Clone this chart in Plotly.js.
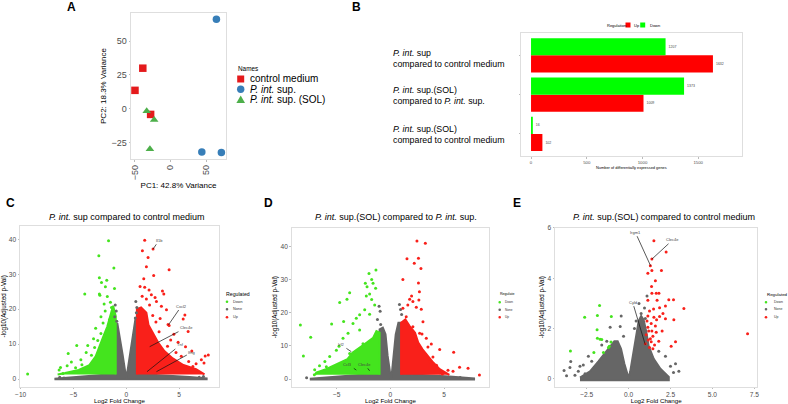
<!DOCTYPE html>
<html><head><meta charset="utf-8">
<script src="https://cdn.plot.ly/plotly-3.0.1.min.js"></script>
<style>html,body{margin:0;padding:0;background:#fff}#chart{width:788px;height:404px}</style>
</head><body><div id="chart"></div>
<script>
// ---------- Panel A: PCA ----------
const pcaGroups = ['control medium', 'P. int. sup.', 'P. int. sup. (SOL)'];
const pcaCtrlX = [-39, -50, -28];
const pcaCtrlY = [30, 13.7, -4];
const pcaSupX = [64.5, 44, 71.5];
const pcaSupY = [66, -31.6, -32];
const pcaSolX = [-33.5, -23, -29];
const pcaSolY = [-1.5, -8, -29.5];

// ---------- Panel B: DEG counts ----------
const degComparisons = ['P. int. sup compared to control medium',
  'P. int. sup.(SOL) compared to P. int. sup.',
  'P. int. sup.(SOL) compared to control medium'];
const degLabels = ['<i>P. int.</i> sup<br>compared to control medium',
  '<i>P. int.</i> sup.(SOL)<br>compared to <i>P. int.</i> sup.',
  '<i>P. int.</i> sup.(SOL)<br>compared to control medium'];
const degUp = [1632, 1009, 102];
const degDown = [1207, 1373, 16];
const degTicks = [0, 500, 1000, 1500];

// ---------- Panel C volcano ----------
const cGrayPolyX = [-6.8, -5, -3, -1.8, -1, -1, -0.85, -0.6, -0.35, -0.15, 0, 0.15, 0.35, 0.6, 0.85, 1, 1, 2, 4, 6, 7.6, 7.6, -6.8];
const cGrayPolyY = [0.1, 0.6, 1.0, 1.3, 1.3, 15, 16, 12, 7, 3, 0.3, 3, 7, 12, 17, 17, 1.3, 1.3, 1.0, 0.6, 0.2, -0.1, -0.1];
const cGreenPolyX = [-1, -1, -1.25, -1.5, -1.8, -2.2, -2.6, -2.9, -3.5, -4.5, -5.8, -6.5];
const cGreenPolyY = [1.3, 18, 21, 18, 15, 12, 9, 6.5, 4, 2.6, 1.7, 1.3];
const cRedPolyX = [1, 1, 1.4, 1.9, 2.1, 2.6, 3.0, 3.6, 4.4, 5.4, 6.6, 7.4];
const cRedPolyY = [1.3, 20, 20.5, 19, 15.5, 12.5, 10.5, 8, 5.9, 4, 2.8, 1.3];
const cGrayX = [-1.05, -0.95, -1.1, -0.9, 0.9, 1.0, 0.95, 0.85, 6.9, 7.3, -6.3, -5.9, 7.1];
const cGrayY = [21.2, 19.5, 17.8, 16.5, 22.2, 20.5, 19, 17.5, 0.5, 0.7, 0.5, 0.3, 0.2];
const cDownX = [-1.68, -2.6, -1.18, -2.55, -1.85, -2.35, -1.12, -1.98, -3.93, -2.55, -2.5, -1.8, -1.5, -2.1, -1.4, -2.0, -2.4, -1.6, -4.69, -3.65, -5.5, -3.0, -3.8, -5.2, -6.23, -6.36, -9.34, -4.3, -3.3, -2.7, -2.4, -3.1, -5.6, -4.8, -5.0, -4.2, -6.0, -3.6, -2.9, -2.2];
const cDownY = [39.6, 35.3, 31.8, 29, 28.3, 27.6, 25.9, 26.4, 24.3, 24.3, 24, 23.6, 22, 21.5, 20.5, 19.5, 17.8, 17, 9.6, 9.6, 7.3, 9, 7.6, 4.9, 3.3, 2.6, 1.4, 5.5, 6.8, 11, 13, 11.5, 3.8, 3.2, 2.0, 4.1, 1.6, 2.5, 14.5, 16];
const cUpX = [1.74, 2.53, 1.52, 2.06, 4.05, 1.9, 1.65, 2.59, 1.74, 2.15, 2.37, 3.42, 3.55, 2.72, 1.9, 2.85, 3.32, 3.8, 5.54, 5.38, 3.95, 4.05, 5.85, 3.2, 2.5, 4.5, 4.9, 5.6, 6.2, 7.76, 7.46, 6.6, 7.1, 7.35, 5.9, 6.3, 5.2, 4.7, 3.9, 4.2, 3.1, 2.8, 2.2, 1.5, 1.3];
const cUpY = [39.7, 37.2, 36.7, 34.8, 31.3, 32.1, 28.7, 29.6, 26.3, 25.5, 24.1, 25.2, 24.3, 23.3, 22.9, 22.2, 20.8, 19.8, 18.3, 17.2, 15.6, 15.3, 13.6, 17.3, 18.2, 12.8, 10.5, 9.2, 8, 6.9, 6.6, 4.4, 5.5, 4.6, 5, 3.6, 6.5, 7.6, 9.4, 11.2, 13.5, 16.3, 21.2, 23.7, 26.5];
const cGenes = ['Il1b', 'Cxcl2', 'Clec4e', 'Tnf', 'Ifng'];
const cGeneX = [2.53, 3.99, 2.21, 1.96, 2.85];
const cGeneY = [37.2, 15.5, 9.25, 2.1, 2.1];
const cGeneLabelX = [3.1, 5.22, 5.66, 5.11, 6.2];
const cGeneLabelY = [39.7, 20.9, 14.7, 9.74, 7.65];

// ---------- Panel D volcano ----------
const dGrayPolyX = [-7.5, -5, -3, -1, -1, -0.7, -0.45, -0.25, -0.08, 0.05, 0.15, 0.3, 0.5, 0.75, 1, 1, 3, 5.5, 7.8, 7.8, -7.5];
const dGrayPolyY = [0.1, 0.8, 1.2, 1.3, 15, 15.5, 13.5, 7, 2, 0.2, 2, 7, 13.5, 17, 17, 1.3, 1.2, 0.8, 0.2, -0.1, -0.1];
const dGreenPolyX = [-1, -1, -1.3, -1.6, -2.2, -2.8, -3.5, -4, -5, -6, -6.9, -7];
const dGreenPolyY = [1.3, 14, 14.5, 12.5, 11, 9.5, 8, 6, 4.5, 3, 2, 1.3];
const dRedPolyX = [1, 1, 1.4, 1.8, 2.3, 2.6, 3, 3.5, 4, 4.6, 5.2, 5.5];
const dRedPolyY = [1.3, 17, 18, 16, 14, 11, 9, 7, 5, 3, 2, 1.3];
const dGrayX = [-1.2, -0.95, -0.9, 0.85, 0.95, 1.05, -7.8, 6.5, -1.05];
const dGrayY = [18, 20.5, 16.5, 22.5, 21, 19.5, 0.4, 0.5, 22];
const dDownX = [-8.38, -7.42, -8.1, -1.34, -1.99, -1.74, -1.61, -2.33, -2.17, -1.37, -2.24, -1.93, -1.74, -3.79, -4.72, -4.04, -5.47, -4.35, -4.78, -3.17, -2.86, -2.39, -1.46, -1.93, -3.48, -2.86, -3.94, -4.41, -5.03, -5.65, -6.1, -6.6, -7.05, -7.08, -5.96, -3.79, -2.55];
const dDownY = [16.3, 12.6, 7, 32.9, 31.9, 30.1, 28.9, 28.9, 27.9, 27.4, 25.1, 25.7, 24, 26.1, 23.1, 24.1, 16.6, 17.4, 9.9, 18.4, 19.4, 20.9, 22.4, 19.6, 16.8, 14.8, 13.8, 12.3, 8.7, 6.8, 5.3, 4, 2.8, 1.3, 3.7, 7.7, 10.7];
const dUpX = [2.48, 3.26, 1.55, 2.62, 2.23, 2.85, 1.17, 2.62, 2.71, 1.98, 1.8, 2.1, 2.66, 2.42, 2.88, 1.17, 1.63, 1.48, 3.04, 2.1, 2.73, 2.95, 3.35, 3.82, 4.6, 5.9, 3.5, 2.42, 3.97, 5.37, 5.84, 6.45, 7.24, 8.3, 4.6, 4.85, 4.3, 3.66];
const dUpY = [41.7, 41, 36.3, 36.5, 35, 33.4, 30.1, 29, 26.4, 25.1, 24.1, 23.4, 23.9, 21.7, 21.1, 21.4, 22.4, 18.8, 17.3, 15.8, 13.8, 13.6, 12.3, 10.6, 8.9, 8.1, 9.7, 9.9, 6.7, 2.7, 2.4, 3.6, 3.3, 1.2, 1.9, 1.5, 4.2, 5.2];
const dGenes = ['Irf2', 'Ccl3', 'Clec4e'];
const dGeneX = [-3.63, -3.17, -1.93];
const dGeneY = [8.25, 2.72, 2.5];
const dGeneLabelX = [-4.56, -3.95, -2.39];
const dGeneLabelY = [10.3, 4.44, 4.44];

// ---------- Panel E volcano ----------
const eGrayPolyX = [-2.9, -2.3, -1.8, -1.4, -1.1, -0.85, -0.65, -0.45, -0.25, -0.1, 0.0, 0.1, 0.25, 0.45, 0.6, 0.75, 0.9, 1.05, 1.2, 1.5, 1.9, 2.4, 2.4, -2.9];
const eGrayPolyY = [0.05, 0.3, 0.7, 1.05, 1.3, 1.5, 1.5, 1.2, 0.6, 0.2, 0.03, 0.3, 0.9, 1.7, 2.3, 2.5, 2.35, 1.9, 1.3, 0.8, 0.4, 0.08, -0.05, -0.05];
const eGrayX = [-3.85, -3.7, -3.45, -2.9, -2.6, -3.0, -2.2, -1.1, -0.5, -0.44, -0.3, 0.62, 0.95, 0.75, 1.0, 0.45, 2.68, 2.8, 2.2, 1.8, 2.5, -1.6, -2.4, -1.3, 0.35, 1.1, -3.2, -2.7, -3.5, 3.0];
const eGrayY = [0.33, 0.13, 0.69, 0.5, 0.2, 0.3, 0.7, 2.05, 2.08, 2.5, 1.7, 3.0, 2.82, 2.6, 2.4, 2.3, 0.25, 0.6, 0.9, 1.1, 0.5, 1.35, 0.9, 1.5, 2.0, 3.3, 0.15, 0.55, 0.45, 0.3];
const eDownX = [-1.73, -2.62, -1.86, -1.03, -1.88, -1.86, -1.7, -1.6, -1.05, -1.15, -1.2, -3.47, -2.07, -1.5];
const eDownY = [2.92, 2.45, 2.52, 2.48, 1.95, 1.62, 1.58, 1.57, 1.47, 1.3, 1.25, 1.11, 1.05, 1.05];
const eUpX = [1.51, 2.24, 1.39, 1.3, 1.39, 1.96, 1.15, 1.6, 1.37, 1.39, 1.65, 1.81, 2.4, 2.68, 1.15, 1.7, 2.2, 3.3, 1.49, 1.85, 2.05, 1.15, 1.51, 1.85, 2.2, 2.7, 1.67, 1.35, 1.15, 1.39, 1.65, 1.45, 1.17, 1.35, 1.55, 1.25, 1.45, 2.8, 2.54, 7.1, 1.05, 1.2, 1.0, 1.3, 1.1, 1.25, 1.6, 2.0, 1.8];
const eUpY = [5.49, 5.04, 4.77, 4.5, 4.31, 4.31, 4.2, 3.9, 3.67, 3.4, 3.4, 3.4, 3.15, 3.15, 3.13, 3.13, 2.9, 2.8, 2.78, 2.83, 2.6, 2.5, 2.45, 2.48, 2.39, 2.35, 2.35, 2.2, 2.05, 1.9, 1.85, 1.7, 1.55, 1.48, 1.35, 1.25, 1.2, 1.48, 1.3, 1.79, 1.75, 1.9, 1.4, 1.6, 2.3, 2.7, 2.1, 1.9, 1.5];
const eGenes = ['Irgm1', 'Clec4e', 'Cyld'];
const eGeneX = [1.31, 1.39, 1.0];
const eGeneY = [4.5, 4.76, 1.35];
const eGeneLabelX = [0.4, 2.64, 0.24];
const eGeneLabelY = [5.83, 5.53, 3.05];

const regLevels = ['Down', 'None', 'Up'];

// ---------- styling ----------
const FONT = 'Liberation Sans, Arial, sans-serif';
const GRAY = '#666666', GREEN = '#44e41e', RED = '#f9201a';
const W = 788, H = 404;
const PX = p => p / W, PY = p => 1 - p / H;

function volcanoTraces(n, d) {
  const xa = 'x' + n, ya = 'y' + n;
  const poly = (x, y, c) => ({type: 'scatter', mode: 'lines', x, y, fill: 'toself', fillcolor: c,
    line: {color: c, width: 2}, xaxis: xa, yaxis: ya, hoverinfo: 'skip', showlegend: false});
  const pts = (x, y, c, name) => ({type: 'scatter', mode: 'markers', x, y, name,
    marker: {color: c, size: 3, line: {width: 0}}, xaxis: xa, yaxis: ya, showlegend: false});
  return [poly(d.gpx, d.gpy, GRAY), d.npx ? poly(d.npx, d.npy, GREEN) : null, d.rpx ? poly(d.rpx, d.rpy, RED) : null,
    pts(d.gx, d.gy, GRAY, 'None'), pts(d.nx, d.ny, GREEN, 'Down'), pts(d.rx, d.ry, RED, 'Up')].filter(Boolean);
}

const traces = [
  {type: 'scatter', mode: 'markers', name: pcaGroups[0], x: pcaCtrlX, y: pcaCtrlY, xaxis: 'x', yaxis: 'y',
   marker: {symbol: 'square', size: 7.5, color: '#E41A1C'}, showlegend: false},
  {type: 'scatter', mode: 'markers', name: pcaGroups[1], x: pcaSupX, y: pcaSupY, xaxis: 'x', yaxis: 'y',
   marker: {symbol: 'circle', size: 7.5, color: '#377EB8'}, showlegend: false},
  {type: 'scatter', mode: 'markers', name: pcaGroups[2], x: pcaSolX, y: pcaSolY, xaxis: 'x', yaxis: 'y',
   marker: {symbol: 'triangle-up', size: 7.5, color: '#4DAF4A'}, showlegend: false},
  {type: 'bar', orientation: 'h', name: 'Up', y: degComparisons, x: degUp, xaxis: 'x2', yaxis: 'y2',
   marker: {color: '#FF0000'}, text: degUp.map(String), textposition: 'outside', cliponaxis: false,
   textfont: {size: 3.5, color: '#444'}, showlegend: false},
  {type: 'bar', orientation: 'h', name: 'Down', y: degComparisons, x: degDown, xaxis: 'x2', yaxis: 'y2',
   marker: {color: '#00FF00'}, text: degDown.map(String), textposition: 'outside', cliponaxis: false,
   textfont: {size: 3.5, color: '#444'}, showlegend: false},
  ...volcanoTraces(3, {gpx: cGrayPolyX, gpy: cGrayPolyY, npx: cGreenPolyX, npy: cGreenPolyY, rpx: cRedPolyX, rpy: cRedPolyY,
    gx: cGrayX, gy: cGrayY, nx: cDownX, ny: cDownY, rx: cUpX, ry: cUpY}),
  ...volcanoTraces(4, {gpx: dGrayPolyX, gpy: dGrayPolyY, npx: dGreenPolyX, npy: dGreenPolyY, rpx: dRedPolyX, rpy: dRedPolyY,
    gx: dGrayX, gy: dGrayY, nx: dDownX, ny: dDownY, rx: dUpX, ry: dUpY}),
  ...volcanoTraces(5, {gpx: eGrayPolyX, gpy: eGrayPolyY,
    gx: eGrayX, gy: eGrayY, nx: eDownX, ny: eDownY, rx: eUpX, ry: eUpY})
];

const axBase = {showline: true, mirror: true, linecolor: '#dedede', linewidth: 1, showgrid: false, zeroline: false,
  ticks: 'outside', ticklen: 1.5, tickcolor: '#bbbbbb', tickfont: {size: 6.6, color: '#4d4d4d'}, fixedrange: true};
const ax = o => Object.assign({}, axBase, o);

const layout = {
  width: W, height: H, margin: {l: 0, r: 0, t: 0, b: 0}, paper_bgcolor: '#fff', plot_bgcolor: '#fff',
  font: {family: FONT, color: '#000'}, showlegend: false, barmode: 'group', bargap: 0.13, bargroupgap: 0,
  xaxis: ax({domain: [PX(131), PX(226)], range: [-55.6, 78], tickvals: [-50, 0, 50], tickangle: -90,
    tickfont: {size: 9, color: '#4d4d4d'}, anchor: 'y',
    title: {text: 'PC1: 42.8% Variance', font: {size: 8}, standoff: 3}}),
  yaxis: ax({domain: [PY(159), PY(13)], range: [-36.8, 70.6], tickvals: [-25, 0, 25, 50],
    tickfont: {size: 9, color: '#4d4d4d'}, anchor: 'x',
    title: {text: 'PC2: 18.3% Variance', font: {size: 8}, standoff: 3}}),
  xaxis2: ax({domain: [PX(521), PX(741.7)], range: [-90, 1890], tickvals: degTicks, anchor: 'y2',
    tickfont: {size: 4.3, color: '#4d4d4d'},
    title: {text: 'Number of differentially expressed genes', font: {size: 3.9}, standoff: 2}}),
  yaxis2: ax({domain: [PY(156), PY(33.3)], range: [-0.56, 2.56], anchor: 'x2', type: 'category',
    categoryorder: 'array', categoryarray: degComparisons.slice().reverse(), showticklabels: false}),
  xaxis3: ax({domain: [PX(20), PX(219)], range: [-10.06, 8.77], tickvals: [-10, -5, 0, 5], anchor: 'y3',
    title: {text: 'Log2 Fold Change', font: {size: 6.2}, standoff: 0}}),
  yaxis3: ax({domain: [PY(386.7), PY(226)], range: [-2.2, 43.8], tickvals: [0, 10, 20, 30, 40], anchor: 'x3',
    title: {text: '-log10(Adjusted p-Val)', font: {size: 6.3}, standoff: 2}}),
  xaxis4: ax({domain: [PX(291.7), PX(489.3)], range: [-9.19, 9.22], tickvals: [-5, 0, 5], anchor: 'y4',
    title: {text: 'Log2 Fold Change', font: {size: 6.2}, standoff: 0}}),
  yaxis4: ax({domain: [PY(386.7), PY(227.7)], range: [-2.3, 45.7], tickvals: [0, 10, 20, 30, 40], anchor: 'x4',
    title: {text: '-log10(Adjusted p-Val)', font: {size: 6.3}, standoff: 2}}),
  xaxis5: ax({domain: [PX(555), PX(757.3)], range: [-4.39, 7.68], tickvals: [-2.5, 0, 2.5, 5, 7.5], tickformat: '.1f', anchor: 'y5',
    title: {text: 'Log2 Fold Change', font: {size: 6.2}, standoff: 0}}),
  yaxis5: ax({domain: [PY(386.7), PY(227.7)], range: [-0.31, 6.01], tickvals: [0, 2, 4, 6], anchor: 'x5',
    title: {text: '-log10(Adjusted p-Val)', font: {size: 6.3}, standoff: 2}}),
  annotations: [],
  shapes: []
};

const A = layout.annotations, S = layout.shapes;
function txt(x, y, text, size, opts) {
  A.push(Object.assign({xref: 'paper', yref: 'paper', x: PX(x), y: PY(y), text, showarrow: false,
    xanchor: 'left', yanchor: 'middle', font: {size, color: '#000'}}, opts || {}));
}
// panel letters
[['A', 71, 7], ['B', 356.5, 7], ['C', 10.5, 203], ['D', 268, 203], ['E', 517, 203]].forEach(l =>
  txt(l[1], l[2], '<b>' + l[0] + '</b>', 12, {xanchor: 'center'}));

// panel titles
txt(126, 216.7, '<i>P. int.</i> sup compared to control medium', 9, {xanchor: 'center'});
txt(395.5, 216.7, '<i>P. int.</i> sup.(SOL) compared to <i>P. int.</i> sup.', 9, {xanchor: 'center'});
txt(664.2, 216.7, '<i>P. int.</i> sup.(SOL) compared to control medium', 9, {xanchor: 'center'});

// B category labels
degComparisons.forEach((c, i) => A.push({xref: 'paper', yref: 'y2', x: PX(391), y: c, text: degLabels[i],
  showarrow: false, xanchor: 'left', align: 'left', yanchor: 'middle', yshift: i === 0 ? -3 : -1,
  font: {size: 8.8, color: '#000'}}));

// A legend
txt(235.7, 68.5, 'Names', 6.4);
txt(248, 79, pcaGroups[0], 10);
txt(248, 89.3, '<i>P. int.</i> sup.', 10);
txt(248, 99.3, '<i>P. int.</i> sup. (SOL)', 10);
S.push({type: 'rect', xref: 'paper', yref: 'paper', x0: PX(237.2), x1: PX(244.2), y0: PY(82.5), y1: PY(75.5),
  fillcolor: '#E41A1C', line: {width: 0}});
S.push({type: 'circle', xref: 'paper', yref: 'paper', x0: PX(237), x1: PX(244.4), y0: PY(93), y1: PY(85.6),
  fillcolor: '#377EB8', line: {width: 0}});
S.push({type: 'path', xref: 'paper', yref: 'paper',
  path: `M${PX(236.4)},${PY(103)} L${PX(245)},${PY(103)} L${PX(240.7)},${PY(95.4)} Z`,
  fillcolor: '#4DAF4A', line: {width: 0}});

// B legend
txt(605, 25, 'Regulation', 4);
S.push({type: 'rect', xref: 'paper', yref: 'paper', x0: PX(625.5), x1: PX(630.5), y0: PY(27.5), y1: PY(22.5), fillcolor: '#FF0000', line: {width: 0}});
txt(632.3, 25, 'Up', 4);
S.push({type: 'rect', xref: 'paper', yref: 'paper', x0: PX(640.2), x1: PX(645.2), y0: PY(27.5), y1: PY(22.5), fillcolor: '#00FF00', line: {width: 0}});
txt(647.7, 25, 'Down', 4);

// volcano legends
function volLegend(title, tx, mx, ltx, ys, tSize, iSize) {
  txt(tx, 294, title, tSize);
  const cols = [GREEN, GRAY, RED];
  regLevels.forEach((lv, i) => {
    S.push({type: 'circle', xref: 'paper', yref: 'paper', x0: PX(mx - 1.3), x1: PX(mx + 1.3),
      y0: PY(ys[i] + 1.3), y1: PY(ys[i] - 1.3), fillcolor: cols[i], line: {width: 0}});
    txt(ltx, ys[i], lv, iSize, {font: {size: iSize, color: '#333'}});
  });
}
volLegend('Regulated', 224, 227, 231, [301.7, 309.3, 317.3], 5.2, 3.8);
volLegend('Regulate', 497.7, 499.7, 503.3, [302.3, 309.7, 317.3], 3.6, 3.1);
volLegend('Regulated', 765, 766, 771.7, [302.3, 309.3, 317.3], 4.4, 3.5);

// gene labels
function genes(n, names, gx, gy, lx, ly) {
  names.forEach((g, i) => A.push({xref: 'x' + n, yref: 'y' + n, axref: 'x' + n, ayref: 'y' + n,
    x: gx[i], y: gy[i], ax: lx[i], ay: ly[i], text: g, showarrow: true, arrowhead: 0, arrowwidth: 0.7,
    arrowcolor: '#111', standoff: 0, startstandoff: 0, font: {size: 4, color: '#444'}}));
}
genes(3, cGenes, cGeneX, cGeneY, cGeneLabelX, cGeneLabelY);
genes(4, dGenes, dGeneX, dGeneY, dGeneLabelX, dGeneLabelY);
genes(5, eGenes, eGeneX, eGeneY, eGeneLabelX, eGeneLabelY);

Plotly.newPlot('chart', traces, layout, {displayModeBar: false, staticPlot: true});
</script>
</body></html>
